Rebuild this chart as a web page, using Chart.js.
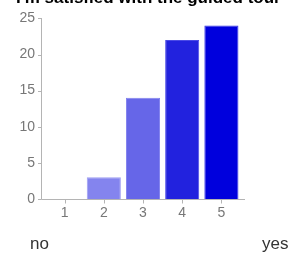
<!DOCTYPE html>
<html>
<head>
<meta charset="utf-8">
<script src="https://cdn.jsdelivr.net/npm/chart.js@4.4.1/dist/chart.umd.min.js"></script>
<style>
  html, body { margin: 0; padding: 0; background: #fff; overflow: hidden; }
  #wrap { position: relative; width: 289px; height: 254px; overflow: hidden; }
  canvas { position: absolute; left: 0; top: 0; }
  .txt { position: absolute; font-family: "Liberation Sans", Arial, sans-serif; white-space: nowrap; line-height: 1; }
  #title { left: 16px; top: -11px; font-size: 17px; font-weight: bold; color: #000; }
  #no { left: 30px; top: 235px; font-size: 17px; color: #333; }
  #yes { left: 262px; top: 235px; font-size: 17px; color: #333; }
</style>
</head>
<body>
<div id="wrap">
  <canvas id="c" width="289" height="254"></canvas>
  <div class="txt" id="title">I'm satisfied with the guided tour</div>
  <div class="txt" id="no">no</div>
  <div class="txt" id="yes">yes</div>
</div>
<script>
const categories = ["1", "2", "3", "4", "5"];
const counts = [0, 3, 14, 22, 24];
const yTicks = [0, 5, 10, 15, 20, 25];
const barColors = ["#9a9af2", "#8484ee", "#6666e8", "#2222de", "#0000dd"];
const barBorders = ["#b0b0f5", "#9c9cf2", "#8080ee", "#4a4ae6", "#3030e6"];

const axisPlugin = {
  id: 'axisLines',
  afterDraw(chart) {
    const ctx = chart.ctx;
    const x = chart.scales.x, y = chart.scales.y;
    const left = chart.chartArea.left - 4, right = chart.chartArea.right + 4;
    const y0 = Math.round(y.getPixelForValue(0)) + 0.5;
    const yTop = Math.round(y.getPixelForValue(yTicks[yTicks.length - 1]));
    ctx.save();
    ctx.strokeStyle = '#b4b4b4';
    ctx.lineWidth = 1;
    ctx.beginPath();
    ctx.moveTo(left + 0.5, yTop);
    ctx.lineTo(left + 0.5, y0);
    ctx.lineTo(right, y0);
    yTicks.forEach(v => {
      const py = Math.round(y.getPixelForValue(v)) + 0.5;
      ctx.moveTo(left - 3, py);
      ctx.lineTo(left + 0.5, py);
    });
    categories.forEach((c, i) => {
      const px = Math.round(x.getPixelForValue(i)) + 0.5;
      ctx.moveTo(px, y0);
      ctx.lineTo(px, y0 + 4);
    });
    ctx.stroke();
    ctx.restore();
  }
};

new Chart(document.getElementById('c'), {
  type: 'bar',
  data: {
    labels: categories,
    datasets: [{
      data: counts,
      backgroundColor: barColors,
      borderColor: barBorders,
      borderWidth: [0, 1, 1, 1, 1],
      barPercentage: 0.87,
      categoryPercentage: 1.0
    }]
  },
  options: {
    responsive: false,
    animation: false,
    devicePixelRatio: 1,
    layout: { padding: { left: 0, right: 48, top: 15, bottom: 25 } },
    plugins: { legend: { display: false }, tooltip: { enabled: false }, title: { display: false } },
    scales: {
      x: {
        grid: { display: false, drawTicks: false },
        border: { display: false },
        ticks: { color: '#777', font: { family: 'Liberation Sans', size: 14 }, padding: 6, maxRotation: 0 },
        afterFit(s) { s.height = 30; }
      },
      y: {
        min: 0, max: 25,
        grid: { display: false, drawTicks: false },
        border: { display: false },
        ticks: {
          stepSize: 5, color: '#777', padding: 10,
          font: { family: 'Liberation Sans', size: 14 }
        },
        afterFit(s) { s.width = 45; }
      }
    }
  },
  plugins: [axisPlugin]
});
</script>
</body>
</html>
